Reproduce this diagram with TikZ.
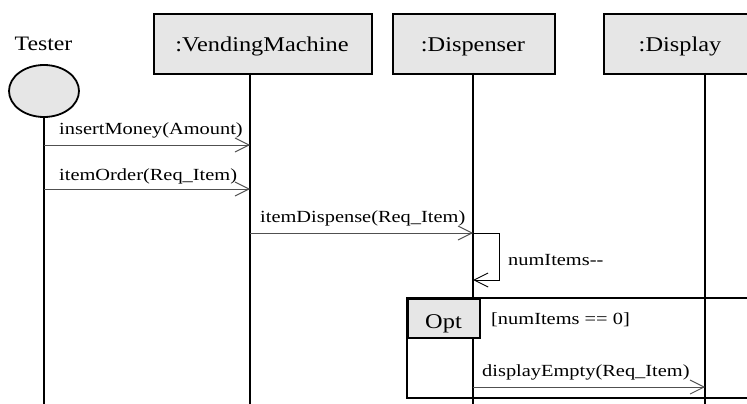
\documentclass[tikz,border=0pt]{standalone}
\usepackage{fontspec}
\setmainfont{Liberation Serif}
\newfontfamily\titlefont[FakeStretch=1.16]{Liberation Serif}
\newfontfamily\lblfont[FakeStretch=1.2]{Liberation Serif}
\usetikzlibrary{arrows.meta,shapes.geometric}
\definecolor{boxgray}{HTML}{E6E6E6}
\definecolor{msggray}{HTML}{505050}
\tikzset{
  objbox/.style={draw=black, line width=1.8pt, fill=boxgray, minimum width=#1, minimum height=60pt, inner sep=0pt, anchor=north west},
  ttl/.style={font=\titlefont\fontsize{21}{22}\selectfont, inner sep=0pt, anchor=base},
  lbl/.style={font=\lblfont\fontsize{17}{19}\selectfont, inner sep=0pt, anchor=base west},
  lifeline/.style={draw=black, line width=1.6pt},
  msg/.style={draw=msggray, line width=0.8pt, -{Straight Barb[length=14pt,width=14pt,line width=0.9pt]}},
  selfmsg/.style={draw=black, line width=1pt, -{Straight Barb[length=14pt,width=14pt,line width=1pt]}},
}
\begin{document}
\begin{tikzpicture}[x=1pt,y=-1pt]
\useasboundingbox (0,0) rectangle (747,404);
% actor
\node[ttl, font=\titlefont\fontsize{20.5}{22}\selectfont] (testerlbl) at (43.5,51) {Tester};
\node[draw=black, line width=1.8pt, fill=boxgray, ellipse, minimum width=70pt, minimum height=52pt, inner sep=0pt] (tester) at (44,91) {};
\coordinate (testerend) at (44,404);
\draw[lifeline] (tester.south) -- (testerend);
% object boxes
\node[objbox=218pt] (vm) at (153,13) {};
\node[ttl] (vmlbl) at (262,52) {:VendingMachine};
\node[objbox=162pt] (disp) at (392,13) {};
\node[ttl] (displbl) at (473,52) {:Dispenser};
\node[objbox=146pt] (dsp) at (603,13) {};
\node[ttl] (dsplbl) at (680,52) {:Display};
% lifelines
\coordinate (vmtop) at (250,73);
\coordinate (vmend) at (250,404);
\coordinate (disptop) at (473,73);
\coordinate (dispend) at (473,404);
\coordinate (dsptop) at (705,73);
\coordinate (dspend) at (705,404);
\draw[lifeline] (vmtop) -- (vmend);
\draw[lifeline] (disptop) -- (dispend);
\draw[lifeline] (dsptop) -- (dspend);
% messages
\coordinate (m1a) at (44,145); \coordinate (m1b) at (250,145);
\draw[msg] (m1a) -- (m1b);
\node[lbl] (m1lbl) at (59,134) {insertMoney(Amount)};
\coordinate (m2a) at (44,189); \coordinate (m2b) at (250,189);
\draw[msg] (m2a) -- (m2b);
\node[lbl] (m2lbl) at (59,180) {itemOrder(Req\_Item)};
\coordinate (m3a) at (250,233); \coordinate (m3b) at (473,233);
\draw[msg] (m3a) -- (m3b);
\node[lbl] (m3lbl) at (260,222) {itemDispense(Req\_Item)};
% self message
\coordinate (s1) at (473,233); \coordinate (s2) at (499,233);
\coordinate (s3) at (499,280); \coordinate (s4) at (473,280);
\draw[selfmsg] (s1) -- (s2) -- (s3) -- (s4);
\node[lbl] (slbl) at (508,265) {numItems--};
% opt frame
\coordinate (fr1) at (407,298); \coordinate (fr2) at (760,398);
\draw[black, line width=1.5pt] (fr2 |- fr1) -- (fr1) -- (fr1 |- fr2) -- (fr2);
\node[draw=black, line width=1.8pt, fill=boxgray, minimum width=72pt, minimum height=39pt, inner sep=0pt, anchor=north west] (opt) at (407,298) {};
\node[ttl] (optlbl) at (443.5,328) {Opt};
\node[lbl] (guard) at (491,324) {[numItems == 0]};
\coordinate (m4a) at (473,387); \coordinate (m4b) at (705,387);
\draw[msg] (m4a) -- (m4b);
\node[lbl] (m4lbl) at (482,376) {displayEmpty(Req\_Item)};
\end{tikzpicture}
\end{document}
